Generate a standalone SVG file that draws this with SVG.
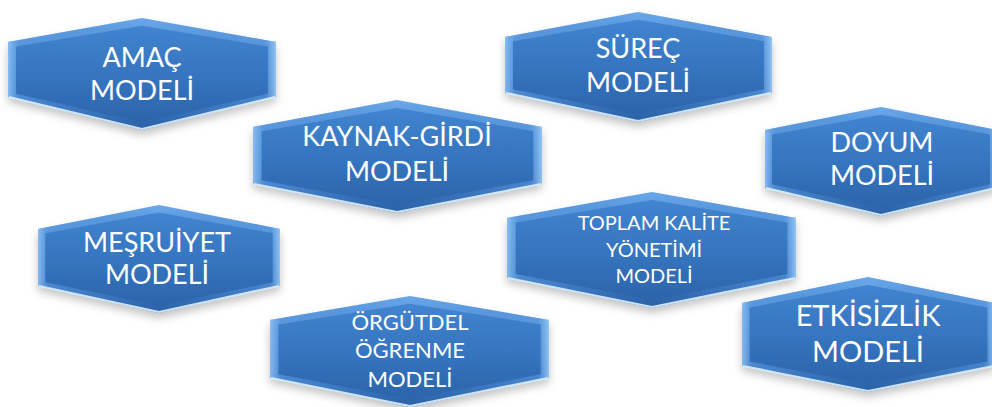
<svg xmlns="http://www.w3.org/2000/svg" xmlns:xlink="http://www.w3.org/1999/xlink" width="992" height="407" viewBox="0 0 992 407">
  <defs>
    <linearGradient id="gOuter" x1="0" y1="0" x2="0" y2="1">
      <stop offset="0" stop-color="#6aa8ea"/>
      <stop offset="0.5" stop-color="#4283cf"/>
      <stop offset="1" stop-color="#2b61a6"/>
    </linearGradient>
    <linearGradient id="gInner" x1="0" y1="0" x2="0" y2="1">
      <stop offset="0" stop-color="#4284d0"/>
      <stop offset="0.55" stop-color="#3574be"/>
      <stop offset="1" stop-color="#2c64aa"/>
    </linearGradient>
    <linearGradient id="gSide" x1="0" y1="0" x2="1" y2="0">
      <stop offset="0" stop-color="#8cc2f5" stop-opacity="0.9"/>
      <stop offset="0.04" stop-color="#5b97dd" stop-opacity="0.6"/>
      <stop offset="0.5" stop-color="#3f7fcb" stop-opacity="0"/>
      <stop offset="0.96" stop-color="#5b97dd" stop-opacity="0.5"/>
      <stop offset="1" stop-color="#9ccbf6" stop-opacity="0.9"/>
    </linearGradient>
    <filter id="shadow" x="-10%" y="-10%" width="120%" height="130%">
      <feGaussianBlur stdDeviation="4"/>
    </filter>
    <polygon id="h-amac" points="8,42 142,18 276,42 276,97 142,130 8,97"/>
    <polygon id="h-surec" points="505,37 638,12 772,37 772,93 638,122 505,93"/>
    <polygon id="h-kaynak" points="253,127 397,100 542,127 542,184 397,213 253,184"/>
    <polygon id="h-doyum" points="765,130 881,107 997,130 997,188 881,216 765,188"/>
    <polygon id="h-mesru" points="38,229 159,205 280,229 280,286 159,313 38,286"/>
    <polygon id="h-toplam" points="507,218 652,192 796,218 796,278 652,308 507,278"/>
    <polygon id="h-orgut" points="270,320 410,296 549,320 549,378 410,407 270,378"/>
    <polygon id="h-etki" points="742,303 868,277 995,303 995,366 868,392 742,366"/>
  </defs>
  <style>
    .shd { fill: #7a7a7a; opacity: 0.45; filter: url(#shadow); }
    .out { fill: url(#gOuter); }
    .side { fill: url(#gSide); }
    .in { fill: url(#gInner); }
    .hl { fill: none; stroke: #dcefff; stroke-width: 2.2; stroke-opacity: 0.9; stroke-linejoin: round; }
    .t { fill: #ffffff; font-family: Lato, "Open Sans", "Liberation Sans", sans-serif; font-size: 27px; text-anchor: middle; }
  </style>

  <g id="node-amac">
    <use href="#h-amac" class="shd" transform="translate(0,5)"/>
    <use href="#h-amac" class="out"/>
    <use href="#h-amac" class="side"/>
    <use href="#h-amac" class="in" transform="translate(142,74) scale(0.94,0.86) translate(-142,-74)"/>
    <polyline class="hl" points="9,97 142,129 275,97"/>
    <text class="t" x="142" y="67">AMAÇ</text>
    <text class="t" x="142" y="100">MODELİ</text>
  </g>

  <g id="node-surec">
    <use href="#h-surec" class="shd" transform="translate(0,5)"/>
    <use href="#h-surec" class="out"/>
    <use href="#h-surec" class="side"/>
    <use href="#h-surec" class="in" transform="translate(638,67) scale(0.94,0.86) translate(-638,-67)"/>
    <polyline class="hl" points="506,93 638,121 771,93"/>
    <text class="t" x="638" y="58">SÜREÇ</text>
    <text class="t" x="638" y="92">MODELİ</text>
  </g>

  <g id="node-kaynak">
    <use href="#h-kaynak" class="shd" transform="translate(0,5)"/>
    <use href="#h-kaynak" class="out"/>
    <use href="#h-kaynak" class="side"/>
    <use href="#h-kaynak" class="in" transform="translate(397,156.5) scale(0.94,0.86) translate(-397,-156.5)"/>
    <polyline class="hl" points="254,184 397,212 541,184"/>
    <text class="t" x="397" y="146">KAYNAK-GİRDİ</text>
    <text class="t" x="397" y="181">MODELİ</text>
  </g>

  <g id="node-doyum">
    <use href="#h-doyum" class="shd" transform="translate(0,5)"/>
    <use href="#h-doyum" class="out"/>
    <use href="#h-doyum" class="side"/>
    <use href="#h-doyum" class="in" transform="translate(881,161.5) scale(0.94,0.86) translate(-881,-161.5)"/>
    <polyline class="hl" points="766,188 881,215 996,188"/>
    <text class="t" x="882" y="152">DOYUM</text>
    <text class="t" x="882" y="185">MODELİ</text>
  </g>

  <g id="node-mesruiyet">
    <use href="#h-mesru" class="shd" transform="translate(0,5)"/>
    <use href="#h-mesru" class="out"/>
    <use href="#h-mesru" class="side"/>
    <use href="#h-mesru" class="in" transform="translate(159,259) scale(0.94,0.86) translate(-159,-259)"/>
    <polyline class="hl" points="39,286 159,312 279,286"/>
    <text class="t" x="157" y="252">MEŞRUİYET</text>
    <text class="t" x="157" y="284">MODELİ</text>
  </g>

  <g id="node-toplam">
    <use href="#h-toplam" class="shd" transform="translate(0,5)"/>
    <use href="#h-toplam" class="out"/>
    <use href="#h-toplam" class="side"/>
    <use href="#h-toplam" class="in" transform="translate(652,250) scale(0.94,0.86) translate(-652,-250)"/>
    <polyline class="hl" points="508,278 652,307 795,278"/>
    <text class="t" x="654" y="230" style="font-size:20px">TOPLAM KALİTE</text>
    <text class="t" x="654" y="257" style="font-size:20px">YÖNETİMİ</text>
    <text class="t" x="654" y="283" style="font-size:20px">MODELİ</text>
  </g>

  <g id="node-orgutdel">
    <use href="#h-orgut" class="shd" transform="translate(0,5)"/>
    <use href="#h-orgut" class="out"/>
    <use href="#h-orgut" class="side"/>
    <use href="#h-orgut" class="in" transform="translate(410,351.5) scale(0.94,0.86) translate(-410,-351.5)"/>
    <polyline class="hl" points="271,378 410,406 548,378"/>
    <text class="t" x="410" y="330" style="font-size:22px">ÖRGÜTDEL</text>
    <text class="t" x="410" y="358" style="font-size:22px">ÖĞRENME</text>
    <text class="t" x="410" y="387" style="font-size:22px">MODELİ</text>
  </g>

  <g id="node-etkisizlik">
    <use href="#h-etki" class="shd" transform="translate(0,5)"/>
    <use href="#h-etki" class="out"/>
    <use href="#h-etki" class="side"/>
    <use href="#h-etki" class="in" transform="translate(868,334.5) scale(0.94,0.86) translate(-868,-334.5)"/>
    <polyline class="hl" points="743,366 868,391 994,366"/>
    <text class="t" x="868" y="326" style="font-size:29px">ETKİSİZLİK</text>
    <text class="t" x="868" y="362" style="font-size:29px">MODELİ</text>
  </g>

  <g id="connectors"></g>
</svg>
